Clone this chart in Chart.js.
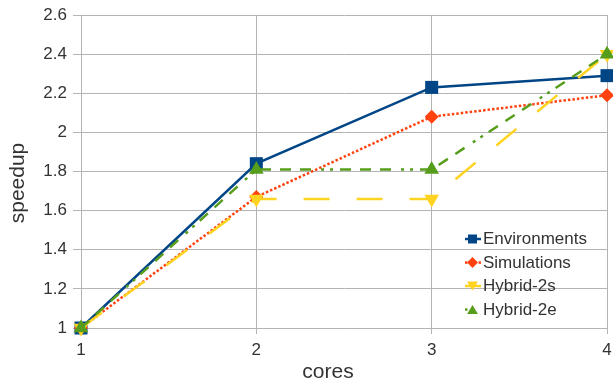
<!DOCTYPE html>
<html>
<head>
<meta charset="utf-8">
<script src="https://cdn.jsdelivr.net/npm/chart.js@4/dist/chart.umd.min.js"></script>
<style>
  html, body { margin: 0; padding: 0; background: #ffffff; }
  #wrap { width: 613px; height: 382px; }
</style>
</head>
<body>
<div id="wrap"><canvas id="c" width="613" height="382"></canvas></div>
<script>
// Speedup per number of cores for each parallelisation strategy
const cores = [1, 2, 3, 4];
const environments = [1.00, 1.84, 2.23, 2.29];
const simulations  = [1.00, 1.67, 2.08, 2.19];
const hybrid2s     = [1.00, 1.66, 1.66, 2.40];
const hybrid2e     = [1.00, 1.81, 1.81, 2.40];
const seriesNames  = ['Environments', 'Simulations', 'Hybrid-2s', 'Hybrid-2e'];
const yTicks = [1, 1.2, 1.4, 1.6, 1.8, 2, 2.2, 2.4, 2.6];
const xTitle = 'cores';
const yTitle = 'speedup';

const FONT = '"Liberation Sans", Arial, sans-serif';
const TEXT = '#333333';
const GRID = '#b3b3b3';

const styles = [
  { color: '#004586', dash: [],                               marker: 'rect',     r: 9.2, rot: 0 },
  { color: '#ff420e', dash: [2.5, 2],                         marker: 'rectRot',  r: 7,   rot: 0 },
  { color: '#ffd320', dash: [26, 27],                         marker: 'triangle', r: 8.5, rot: 180 },
  { color: '#579d1c', dash: [11, 9, 11, 9, 11, 10, 3, 6, 3, 7], marker: 'triangle', r: 8.5, rot: 0 }
];
const values = [environments, simulations, hybrid2s, hybrid2e];

const datasets = values.map((vals, i) => ({
  label: seriesNames[i],
  data: cores.map((c, k) => ({ x: c, y: vals[k] })),
  borderColor: styles[i].color,
  backgroundColor: styles[i].color,
  borderWidth: 2.5,
  borderDash: styles[i].dash,
  borderCapStyle: 'butt',
  pointStyle: styles[i].marker,
  pointRadius: styles[i].r,
  pointRotation: styles[i].rot,
  pointBorderWidth: 0,
  pointBackgroundColor: styles[i].color,
  tension: 0,
  fill: false,
  clip: false,
  order: 4 - i
}));

// small marker shapes for the legend
function legendMarker(ctx, shape, x, y, s, rot) {
  ctx.beginPath();
  if (shape === 'rect') {
    ctx.rect(x - s, y - s, 2 * s, 2 * s);
  } else if (shape === 'rectRot') {
    ctx.moveTo(x, y - s * 1.2); ctx.lineTo(x + s * 1.2, y);
    ctx.lineTo(x, y + s * 1.2); ctx.lineTo(x - s * 1.2, y);
  } else if (rot === 180) {
    ctx.moveTo(x - s * 1.2, y - s); ctx.lineTo(x + s * 1.2, y - s); ctx.lineTo(x, y + s);
  } else {
    ctx.moveTo(x - s * 1.2, y + s); ctx.lineTo(x + s * 1.2, y + s); ctx.lineTo(x, y - s);
  }
  ctx.closePath();
  ctx.fill();
}

const overlay = {
  id: 'overlay',
  afterDraw(chart) {
    const ctx = chart.ctx;
    ctx.save();
    // axis titles
    ctx.fillStyle = TEXT;
    ctx.font = '21px ' + FONT;
    ctx.textAlign = 'center';
    ctx.textBaseline = 'middle';
    ctx.fillText(xTitle, 328, 372);
    ctx.save();
    ctx.translate(18, 183);
    ctx.rotate(-Math.PI / 2);
    ctx.fillText(yTitle, 0, 0);
    ctx.restore();

    // legend inside the plot area
    const x0 = 465, x1 = 481, mx = 472.5;
    const rows = [239, 262.5, 286, 309.5];
    seriesNames.forEach((name, i) => {
      const st = styles[i];
      const y = rows[i];
      ctx.strokeStyle = st.color;
      ctx.fillStyle = st.color;
      ctx.lineWidth = 2.5;
      if (i === 0 || i === 2) {
        ctx.setLineDash([]);
        ctx.beginPath(); ctx.moveTo(x0, y); ctx.lineTo(x1, y); ctx.stroke();
      } else if (i === 1) {
        ctx.fillRect(x0, y - 1.2, 2.5, 2.5);
        ctx.fillRect(x1 - 2.5, y - 1.2, 2.5, 2.5);
      } else {
        ctx.fillRect(x0, y - 1.2, 2.5, 2.5);
      }
      legendMarker(ctx, st.marker, mx, y, 4.5, st.rot);
      ctx.fillStyle = TEXT;
      ctx.font = '17px ' + FONT;
      ctx.textAlign = 'left';
      ctx.textBaseline = 'middle';
      ctx.fillText(name, 483, y + 0.5);
    });
    ctx.restore();
  }
};

new Chart(document.getElementById('c'), {
  type: 'line',
  data: { datasets },
  options: {
    responsive: false,
    animation: false,
    events: [],
    layout: { autoPadding: false, padding: { left: 0, right: 6, top: 15, bottom: 0 } },
    plugins: { legend: { display: false }, tooltip: { enabled: false }, title: { display: false } },
    scales: {
      x: {
        type: 'linear',
        min: 1, max: 4,
        afterBuildTicks(scale) { scale.ticks = cores.map(v => ({ value: v })); },
        afterFit(scale) { scale.height = 54; scale.paddingLeft = 0; scale.paddingRight = 0; },
        grid: { color: GRID, lineWidth: 1, tickLength: 6, tickColor: GRID },
        border: { color: GRID, width: 1 },
        ticks: { color: TEXT, font: { family: FONT, size: 17 }, padding: 6, maxRotation: 0,
                 callback: v => String(v) }
      },
      y: {
        type: 'linear',
        min: 1, max: 2.6,
        afterBuildTicks(scale) { scale.ticks = yTicks.map(v => ({ value: v })); },
        afterFit(scale) { scale.width = 81; scale.paddingTop = 0; scale.paddingBottom = 0; },
        grid: { color: GRID, lineWidth: 1, tickLength: 8, tickColor: GRID },
        border: { color: GRID, width: 1 },
        ticks: { color: TEXT, font: { family: FONT, size: 17 }, padding: 6,
                 callback: v => String(Math.round(v * 10) / 10) }
      }
    }
  },
  plugins: [overlay]
});
</script>
</body>
</html>
